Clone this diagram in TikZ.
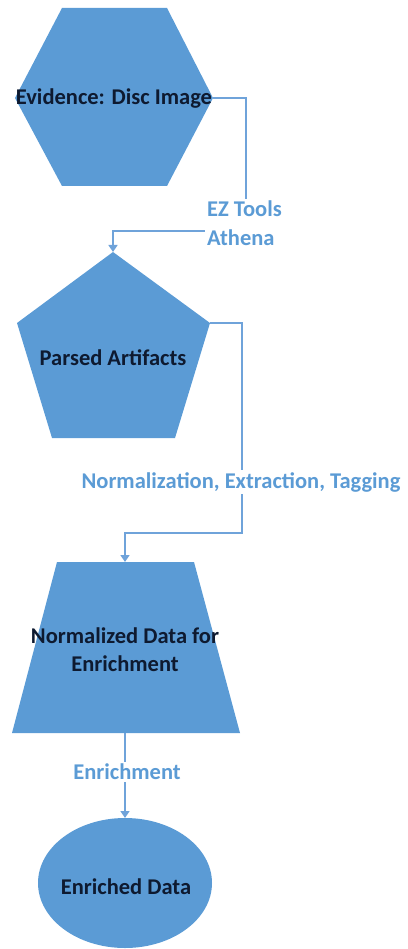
\documentclass[tikz,border=0pt]{standalone}
\usepackage{fontspec}
\setmainfont{Carlito}
\usetikzlibrary{arrows.meta}
\definecolor{shapeblue}{HTML}{5B9BD5}
\definecolor{linkblue}{HTML}{6FA3DA}
\definecolor{labelblue}{HTML}{5B9BD5}
\definecolor{inktext}{HTML}{0E1A30}
\tikzset{
  shapefill/.style={fill=shapeblue},
  shapetext/.style={font=\bfseries\fontsize{22.5}{28}\selectfont, text=inktext, align=center, inner sep=0pt},
  linktext/.style={font=\bfseries\fontsize{22.5}{29}\selectfont, text=labelblue, fill=white, align=center, inner sep=2pt},
  link/.style={draw=linkblue, line width=1.5pt},
  linkarrow/.style={link, -{Triangle[width=9pt,length=7pt]}}
}
\begin{document}
\begin{tikzpicture}[x=1pt,y=-1pt]
\useasboundingbox (0,0) rectangle (407,949);
% hexagon
\coordinate (hexR) at (213,98);
\fill[shapefill] (15,98) -- (62,8) -- (167,8) -- (hexR) -- (167,186) -- (62,186) -- cycle;
\node[shapetext] (ev) at (114,99) {Evidence: Disc Image};
% pentagon
\coordinate (penT) at (113,252);
\coordinate (penR) at (210,323);
\fill[shapefill] (penT) -- (penR) -- (175,438) -- (52,438) -- (17,323) -- cycle;
\node[shapetext] (pa) at (113,358) {Parsed Artifacts};
% trapezoid
\coordinate (trT) at (125,562);
\coordinate (trB) at (126,733);
\fill[shapefill] (57,562) -- (194,562) -- (240,733) -- (12,733) -- cycle;
\node[shapetext] (nd) at (125,650) {Normalized Data for\\Enrichment};
% ellipse
\coordinate (elT) at (125,818);
\fill[shapefill] (125,883) ellipse [x radius=87, y radius=65];
\node[shapetext] (ed) at (126,887) {Enriched Data};
% connectors
\coordinate (c1a) at (246,98);
\coordinate (c1b) at (246,231);
\coordinate (c1c) at (113,231);
\draw[linkarrow] (hexR) -- (c1a) -- (c1b) -- (c1c) -- (penT);
\node[linktext, align=left, anchor=west] (l1) at (205,223) {EZ Tools\\Athena};
\coordinate (c2a) at (242,323);
\coordinate (c2b) at (242,533);
\coordinate (c2c) at (125,533);
\draw[linkarrow] (penR) -- (c2a) -- (c2b) -- (c2c) -- (trT);
\node[linktext] (l2) at (241,482) {Normalization, Extraction, Tagging};
\draw[linkarrow] (trB -| elT) -- (elT);
\node[linktext] (l3) at (127,772) {Enrichment};
\end{tikzpicture}
\end{document}
